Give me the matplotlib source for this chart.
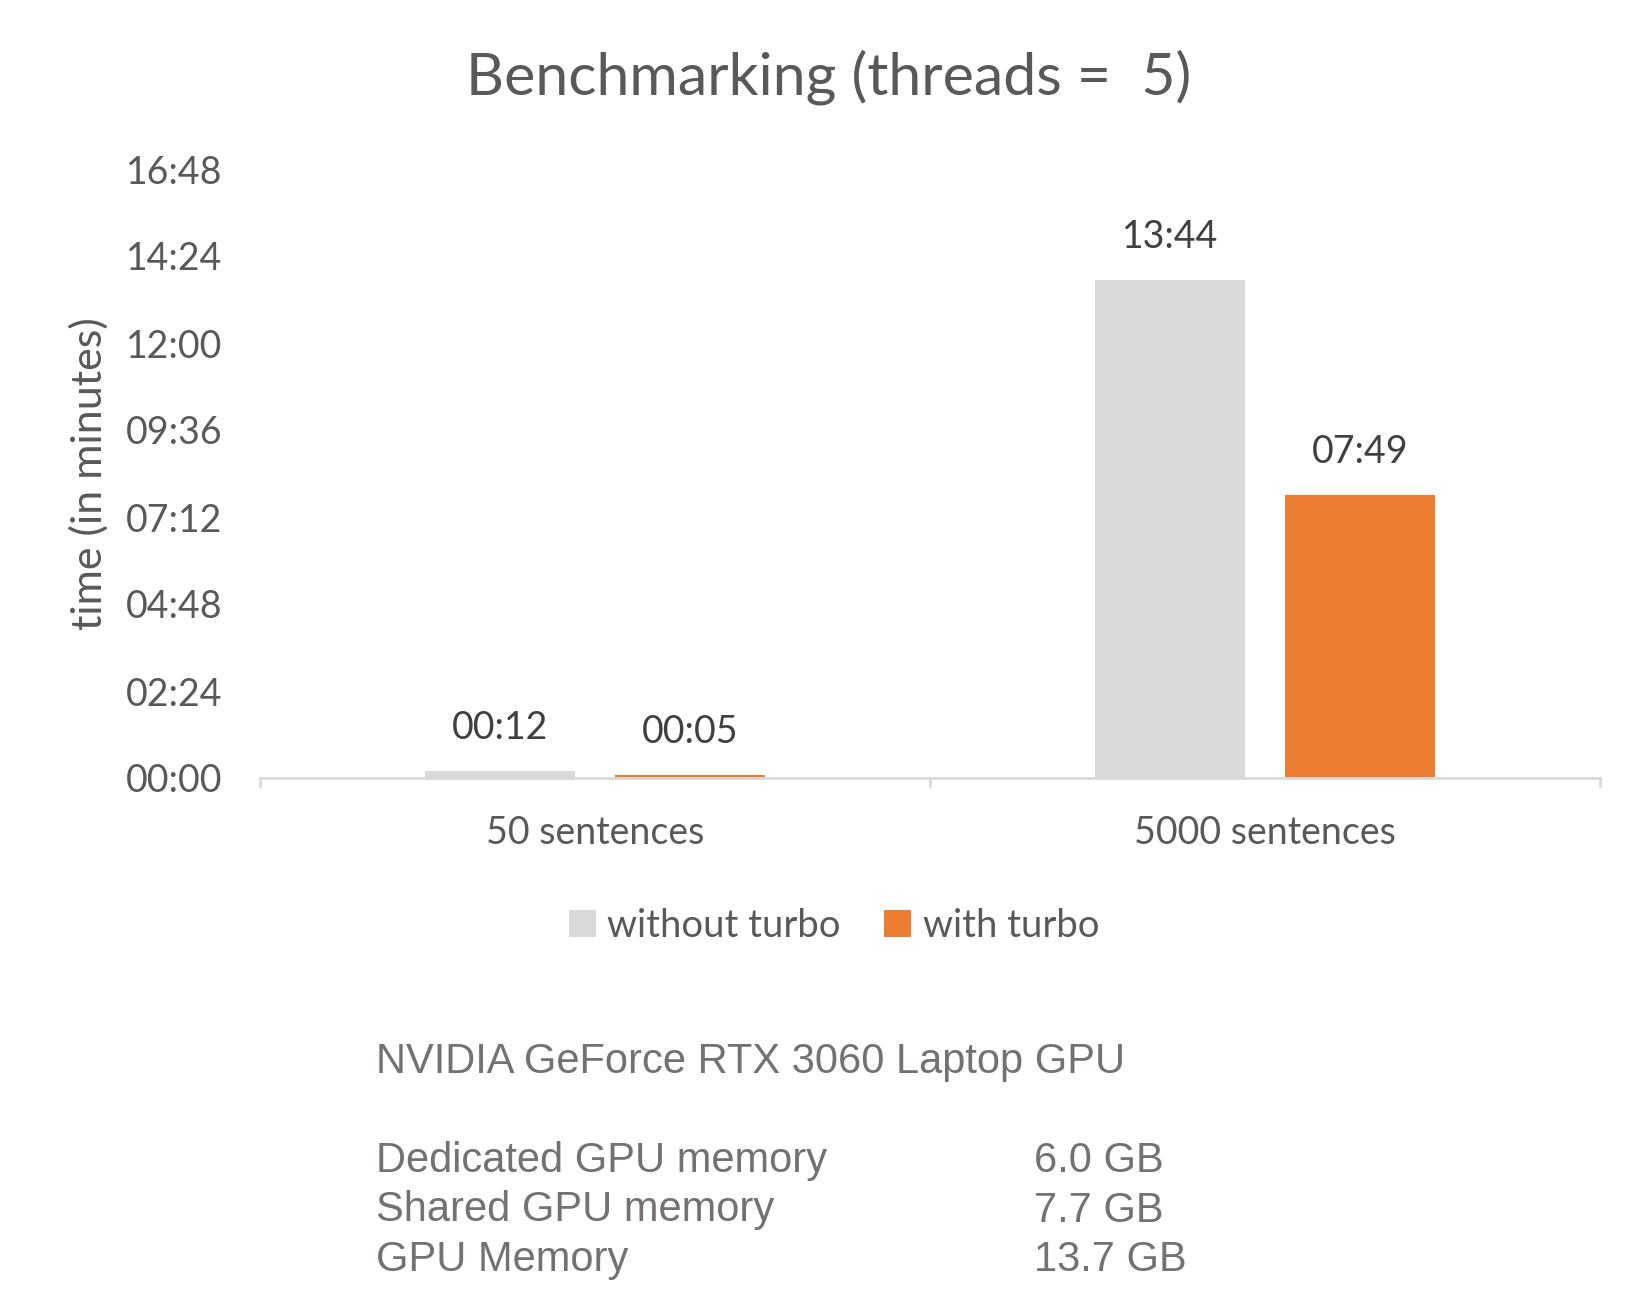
import matplotlib
matplotlib.use("Agg")
import matplotlib.pyplot as plt
from matplotlib.patches import Patch

categories = ["50 sentences", "5000 sentences"]
series_names = ["without turbo", "with turbo"]
without_turbo_sec = [12, 824]   # 00:12, 13:44
with_turbo_sec = [5, 469]       # 00:05, 07:49
ytick_sec = [0, 144, 288, 432, 576, 720, 864, 1008]
gpu_name = "NVIDIA GeForce RTX 3060 Laptop GPU"
gpu_rows = ["Dedicated GPU memory", "Shared GPU memory", "GPU Memory"]
gpu_vals = ["6.0 GB", "7.7 GB", "13.7 GB"]

def fmt(s):
    return f"{int(s)//60:02d}:{int(s)%60:02d}"

plt.rcParams['font.family'] = ['Lato', 'DejaVu Sans']
fig = plt.figure(figsize=(16.5, 13.06), dpi=100)
ax = fig.add_axes([260/1650, 1-778/1306, (1600-260)/1650, (778-169)/1306])

c_grey = "#d9d9d9"
c_orange = "#ed7d31"
txt = "#595959"
w = 0.224
off = 0.142
xs = list(range(len(categories)))
b1 = ax.bar([x - off for x in xs], without_turbo_sec, width=w, color=c_grey, zorder=2)
b2 = ax.bar([x + off for x in xs], with_turbo_sec, width=w, color=c_orange, zorder=2)
for bars, vals in ((b1, without_turbo_sec), (b2, with_turbo_sec)):
    for r, v in zip(bars, vals):
        ax.annotate(fmt(v), (r.get_x() + r.get_width()/2, r.get_height()),
                    xytext=(0, 18), textcoords="offset points", ha="center",
                    va="bottom", fontsize=27, color="#404040")

ax.set_xlim(-0.5, 1.5)
ax.set_ylim(0, 1008)
ax.set_yticks(ytick_sec)
ax.set_yticklabels([fmt(s) for s in ytick_sec])
ax.set_xticks(xs)
ax.set_xticklabels(categories)
ax.tick_params(axis='y', length=0, pad=27, labelsize=27, labelcolor=txt)
ax.tick_params(axis='x', length=0, pad=27, labelsize=27, labelcolor=txt)
for x in (-0.5, 0.5, 1.5):
    ax.plot([x, x], [0, -14], color=c_grey, lw=2, clip_on=False, zorder=1)
for sp in ("top", "right", "left"):
    ax.spines[sp].set_visible(False)
ax.spines["bottom"].set_color(c_grey)
ax.spines["bottom"].set_linewidth(2)
ax.set_ylabel("time (in minutes)", fontsize=31, color=txt, labelpad=12)

fig.text(829/1650, 1-77/1306, "Benchmarking (threads =  5)", ha="center",
         va="center", fontsize=42.5, color=txt)

handles = [Patch(facecolor=c_grey), Patch(facecolor=c_orange)]
fig.legend(handles, series_names, loc="center", bbox_to_anchor=(834/1650, 1-926/1306),
           ncol=2, frameon=False, fontsize=27.5, labelcolor=txt, handlelength=0.7,
           handleheight=0.7, handletextpad=0.3, columnspacing=1.15)

gfam = ['Liberation Sans', 'DejaVu Sans']
gcol = "#767171"
fig.text(376/1650, 1-1062/1306, gpu_name, ha="left", va="center", fontsize=30,
         color=gcol, family=gfam)
for i, (r, v) in enumerate(zip(gpu_rows, gpu_vals)):
    y = 1 - (1161 + i*49.5)/1306
    fig.text(376/1650, y, r, ha="left", va="center", fontsize=30, color=gcol, family=gfam)
    fig.text(1034/1650, y, v, ha="left", va="center", fontsize=30, color=gcol, family=gfam)

fig.savefig("out.png", dpi=100, facecolor="white")
